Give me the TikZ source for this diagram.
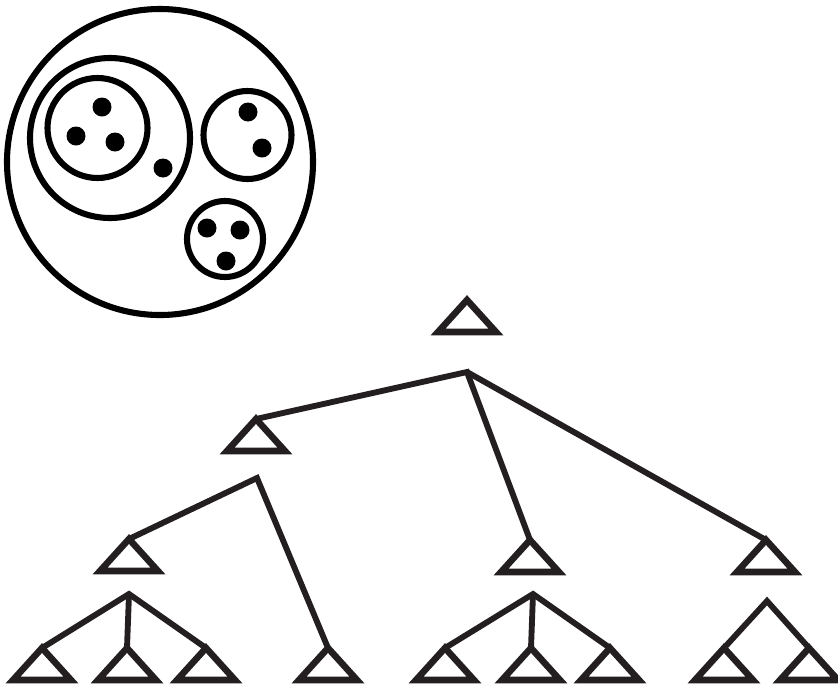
\documentclass[tikz,border=0pt]{standalone}
\usepackage{tikz}
\usetikzlibrary{positioning, calc}
\usepackage{xcolor}
\definecolor{InkBlack}{HTML}{231F20}
\tikzset{
  blob/.style={line width=5.2pt},
  tri/.style={InkBlack, line width=5.6pt, line join=miter},
  branch/.style={InkBlack, line width=5.0pt}
}

\begin{document}
\begin{tikzpicture}[x=0.03cm, y=-0.03cm]
  \useasboundingbox (0,0) rectangle (838,686);
  % nested sets
  \draw[blob] (160,162) circle[radius=153];
  \draw[blob] (110,138) circle[radius=80];
  \draw[blob] (97.5,128) circle[radius=50];
  \draw[blob] (247.5,135) circle[radius=44];
  \draw[blob] (225,239) circle[radius=38];
  \foreach \p in {(102,107),(76,136),(115,142),(163,168),(248,112),(262,148),(207,228),(240,230),(226,261)}
    \fill \p circle[radius=9.5];
  % subtree triangles
  \foreach \n/\x/\y in {top/467/300, lone/256/419, sl/129/539, sm/530/540, sr/766/540,
    a/42/648, b/127/648, c/206/648, d/328/648, e/445/648, f/531/648, g/610/648, h/724/648, i/809/648}
  {
    \coordinate (\n) at (\x,\y);
    \draw[tri] (\n) -- ++(-29,32) -- ++(58,0) -- cycle;
  }
  % branch points
  \coordinate (jtop) at (467,372);
  \coordinate (jlone) at (257,478);
  \coordinate (jsl) at (129,594);
  \coordinate (jsm) at (533,594);
  \coordinate (jsr) at (767,601);
  % tree
  \draw[branch] (lone) -- (jtop) -- (sm);
  \draw[branch] (jtop) -- (sr);
  \draw[branch] (sl) -- (jlone) -- (d);
  \draw[branch] (a) -- (jsl) -- (c);
  \draw[branch] (jsl) -- (b);
  \draw[branch] (e) -- (jsm) -- (g);
  \draw[branch] (jsm) -- (f);
  \draw[branch] (h) -- (jsr) -- (i);
\end{tikzpicture}
\end{document}
